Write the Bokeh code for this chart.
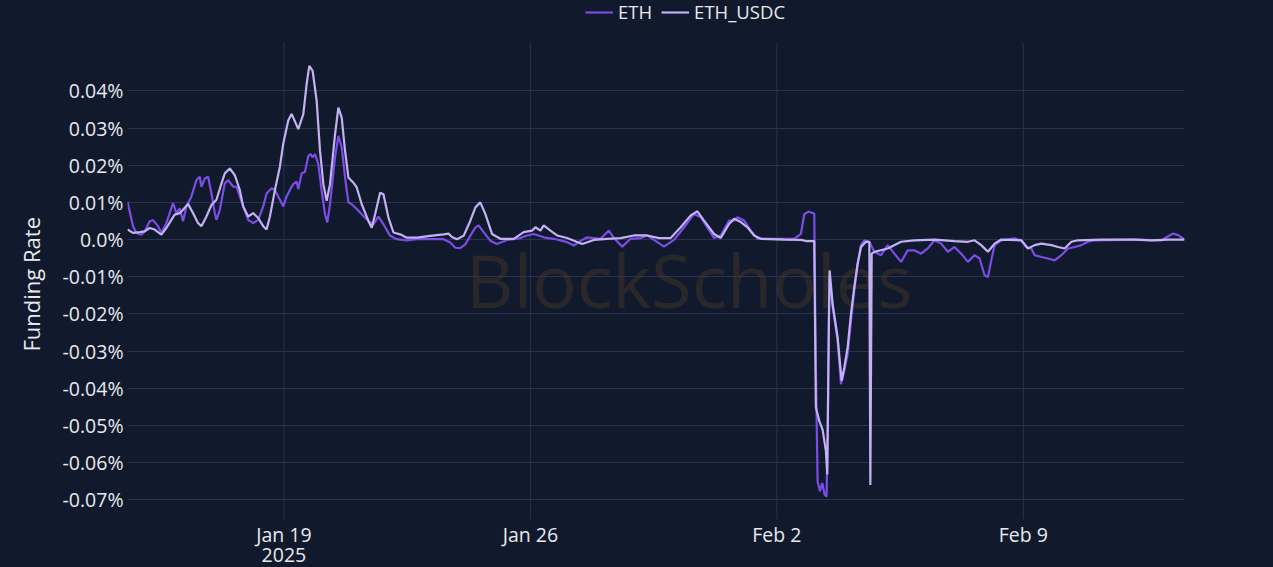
import pandas as pd
from bokeh.plotting import figure
from bokeh.models import (FixedTicker, Legend, LegendItem, Label, ColumnDataSource, Range1d,
                          DatetimeAxis, Title)
from bokeh.embed import file_html
from bokeh.resources import INLINE

# ---------------- data ----------------
# time = days after 2025-01-14 00:00, funding rate in percent (0.01 -> 0.01%)
base_date = "2025-01-14"

eth_days = [0.557, 0.713, 0.807, 0.950, 1.045, 1.187, 1.282, 1.424, 1.519, 1.661,
            1.851, 1.946, 2.041, 2.135, 2.230, 2.373, 2.515, 2.610, 2.657, 2.752,
            2.847, 2.942, 3.037, 3.084, 3.179, 3.321, 3.416, 3.558, 3.653, 3.843,
            3.985, 4.127, 4.270, 4.412, 4.507, 4.649, 4.744, 4.886, 4.981, 5.076,
            5.218, 5.266, 5.361, 5.408, 5.503, 5.598, 5.693, 5.759, 5.816, 5.882,
            5.977, 6.072, 6.167, 6.233, 6.309, 6.452, 6.547, 6.641, 6.736, 6.831,
            6.926, 7.068, 7.210, 7.400, 7.542, 7.685, 7.827, 8.017, 8.206, 8.491,
            8.776, 9.155, 9.535, 9.724, 9.867, 10.009, 10.151, 10.293, 10.436, 10.530,
            10.673, 10.862, 11.052, 11.337, 11.716, 11.906, 12.095, 12.380, 12.665, 13.044,
            13.234, 13.471, 13.613, 13.993, 14.230, 14.372, 14.609, 14.846, 15.131, 15.321,
            15.510, 15.795, 16.080, 16.364, 16.649, 16.838, 17.028, 17.218, 17.407, 17.645,
            17.787, 17.881, 18.071, 18.261, 18.451, 18.735, 19.115, 19.494, 19.684, 19.780,
            19.900, 20.000, 20.063, 20.110, 20.158, 20.225, 20.291, 20.357, 20.414, 20.452,
            20.490, 20.585, 20.727, 20.822, 20.917, 21.012, 21.107, 21.201, 21.296, 21.391,
            21.486, 21.628, 21.771, 21.960, 22.150, 22.340, 22.530, 22.719, 22.909, 23.099,
            23.288, 23.478, 23.668, 23.858, 24.047, 24.237, 24.427, 24.617, 24.759, 24.901,
            24.996, 25.091, 25.186, 25.375, 25.755, 25.944, 26.087, 26.229, 26.324, 26.514,
            26.703, 26.893, 27.083, 27.272, 27.462, 27.652, 27.842, 28.031, 29.170, 29.930,
            30.118, 30.260, 30.403, 30.580]
eth_rate = [0.0102, 0.0036, 0.0018, 0.0013, 0.0022, 0.0049, 0.0052, 0.0036, 0.0018, 0.0044,
            0.0098, 0.0071, 0.0084, 0.0049, 0.0089, 0.0116, 0.0160, 0.0169, 0.0142, 0.0164,
            0.0169, 0.0124, 0.0071, 0.0053, 0.0080, 0.0151, 0.0160, 0.0142, 0.0142, 0.0089,
            0.0053, 0.0044, 0.0053, 0.0089, 0.0124, 0.0138, 0.0133, 0.0107, 0.0089, 0.0116,
            0.0142, 0.0149, 0.0156, 0.0135, 0.0178, 0.0182, 0.0225, 0.0230, 0.0221, 0.0230,
            0.0203, 0.0131, 0.0068, 0.0046, 0.0095, 0.0221, 0.0279, 0.0248, 0.0167, 0.0100,
            0.0095, 0.0082, 0.0068, 0.0050, 0.0041, 0.0062, 0.0041, 0.0010, 0.0001, -0.0002,
            0.0001, 0.0001, 0.0001, -0.0008, -0.0022, -0.0023, -0.0013, 0.0010, 0.0032, 0.0038,
            0.0020, -0.0003, -0.0012, -0.0001, 0.0004, 0.0011, 0.0015, 0.0006, 0.0002, -0.0007,
            -0.0016, -0.0001, 0.0006, 0.0002, 0.0024, 0.0004, -0.0019, 0.0002, 0.0004, 0.0011,
            -0.0001, -0.0019, -0.0001, 0.0033, 0.0069, 0.0060, 0.0033, 0.0004, 0.0011, 0.0051,
            0.0051, 0.0060, 0.0051, 0.0024, 0.0002, 0.0002, 0.0002, 0.0002, 0.0015, 0.0068,
            0.0075, 0.0072, 0.0070, -0.0344, -0.0650, -0.0677, -0.0655, -0.0686, -0.0691, -0.0470,
            -0.0101, -0.0182, -0.0272, -0.0389, -0.0353, -0.0308, -0.0218, -0.0137, -0.0065, -0.0015,
            -0.0002, -0.0006, -0.0033, -0.0042, -0.0015, -0.0038, -0.0060, -0.0029, -0.0029, -0.0038,
            -0.0024, -0.0002, -0.0011, -0.0033, -0.0020, -0.0038, -0.0060, -0.0042, -0.0051, -0.0096,
            -0.0101, -0.0056, -0.0015, -0.0002, 0.0003, -0.0002, -0.0020, -0.0024, -0.0042, -0.0047,
            -0.0051, -0.0056, -0.0042, -0.0024, -0.0020, -0.0015, -0.0006, -0.0002, 0.0000, -0.0002,
            0.0009, 0.0016, 0.0012, 0.0000]

usdc_days = [0.557, 0.713, 0.902, 1.045, 1.187, 1.329, 1.519, 1.661, 1.803, 1.898,
             2.041, 2.135, 2.278, 2.420, 2.562, 2.657, 2.799, 2.942, 3.084, 3.226,
             3.321, 3.463, 3.606, 3.748, 3.843, 3.985, 4.127, 4.270, 4.412, 4.507,
             4.602, 4.744, 4.886, 4.981, 5.123, 5.218, 5.266, 5.408, 5.550, 5.645,
             5.721, 5.816, 5.930, 6.025, 6.120, 6.214, 6.309, 6.452, 6.547, 6.641,
             6.736, 6.831, 6.973, 7.068, 7.210, 7.400, 7.495, 7.590, 7.732, 7.827,
             7.969, 8.112, 8.301, 8.491, 8.776, 9.155, 9.535, 9.677, 9.772, 9.914,
             10.104, 10.293, 10.436, 10.578, 10.720, 10.910, 11.147, 11.526, 11.811, 12.048,
             12.143, 12.285, 12.380, 12.570, 12.759, 13.044, 13.471, 13.803, 14.182, 14.562,
             14.941, 15.321, 15.653, 15.985, 16.269, 16.554, 16.744, 16.933, 17.218, 17.407,
             17.645, 17.787, 17.977, 18.166, 18.356, 18.546, 19.210, 19.684, 19.826, 20.063,
             20.110, 20.206, 20.300, 20.395, 20.433, 20.471, 20.500, 20.585, 20.727, 20.841,
             20.917, 21.012, 21.107, 21.201, 21.296, 21.391, 21.533, 21.628, 21.657, 21.695,
             21.771, 22.150, 22.530, 22.909, 23.478, 24.047, 24.427, 24.617, 24.806, 24.996,
             25.186, 25.375, 25.944, 26.134, 26.324, 26.514, 26.798, 26.988, 27.177, 27.367,
             27.557, 28.221, 29.170, 29.645, 30.118, 30.580]
usdc_rate = [0.0027, 0.0018, 0.0020, 0.0022, 0.0031, 0.0027, 0.0013, 0.0031, 0.0053, 0.0067,
             0.0071, 0.0080, 0.0096, 0.0071, 0.0044, 0.0036, 0.0062, 0.0093, 0.0107, 0.0151,
             0.0178, 0.0191, 0.0173, 0.0133, 0.0089, 0.0062, 0.0071, 0.0058, 0.0036, 0.0027,
             0.0062, 0.0133, 0.0196, 0.0258, 0.0320, 0.0338, 0.0328, 0.0297, 0.0337, 0.0418,
             0.0467, 0.0454, 0.0373, 0.0239, 0.0149, 0.0104, 0.0149, 0.0283, 0.0355, 0.0328,
             0.0239, 0.0167, 0.0153, 0.0140, 0.0095, 0.0050, 0.0032, 0.0068, 0.0126, 0.0122,
             0.0059, 0.0019, 0.0014, 0.0005, 0.0005, 0.0010, 0.0014, 0.0016, 0.0007, 0.0001,
             0.0010, 0.0050, 0.0086, 0.0100, 0.0069, 0.0015, 0.0002, 0.0002, 0.0020, 0.0024,
             0.0033, 0.0024, 0.0038, 0.0024, 0.0011, 0.0004, -0.0012, -0.0001, 0.0002, 0.0004,
             0.0011, 0.0011, 0.0004, 0.0004, 0.0033, 0.0065, 0.0076, 0.0051, 0.0015, 0.0004,
             0.0042, 0.0056, 0.0047, 0.0033, 0.0011, 0.0002, 0.0000, -0.0001, -0.0004, -0.0004,
             -0.0452, -0.0488, -0.0511, -0.0569, -0.0632, -0.0290, -0.0083, -0.0173, -0.0263, -0.0380,
             -0.0344, -0.0290, -0.0200, -0.0128, -0.0065, -0.0020, -0.0006, -0.0006, -0.0660, -0.0038,
             -0.0033, -0.0024, -0.0006, -0.0002, 0.0000, -0.0004, -0.0006, -0.0002, -0.0015, -0.0033,
             -0.0011, 0.0000, -0.0002, -0.0024, -0.0015, -0.0011, -0.0015, -0.0020, -0.0024, -0.0006,
             -0.0002, 0.0000, 0.0000, -0.0002, 0.0000, 0.0000]

series_names = ["ETH", "ETH_USDC"]
series_colors = ["#7b4ce6", "#c4b1f2"]

x_tick_dates = ["2025-01-19", "2025-01-26", "2025-02-02", "2025-02-09"]
x_tick_labels = ["Jan 19", "Jan 26", "Feb 2", "Feb 9"]
x_year_label = "2025"
y_ticks = [0.04, 0.03, 0.02, 0.01, 0.0, -0.01, -0.02, -0.03, -0.04, -0.05, -0.06, -0.07]
y_tick_labels = ["0.04%", "0.03%", "0.02%", "0.01%", "0.0%", "-0.01%", "-0.02%",
                 "-0.03%", "-0.04%", "-0.05%", "-0.06%", "-0.07%"]
y_axis_title = "Funding Rate"
watermark = "BlockScholes"

# ---------------- build ----------------
def to_ms(days):
    t0 = pd.Timestamp(base_date)
    return [(t0 + pd.Timedelta(days=d)).value / 1e6 for d in days]

eth_t = to_ms(eth_days)
usdc_t = to_ms(usdc_days)

BG = "#111a2d"
GRID = "#28334f"
TXT = "#e8e8ee"
FONT = "Open Sans"
TICK_FS = "19.5px"

W, H = 1273, 567
B_LEFT, B_RIGHT, B_BOTTOM = 127, 89, 48
PLOT_TOP = 42                      # top of the plotting area (legend lives above it)
Y_MIN, Y_MAX = -0.0753, 0.0530     # value range of the plotting area
FRAME_H = H - B_BOTTOM             # frame reaches the top edge so the legend is not clipped
px_per_unit = (FRAME_H - PLOT_TOP) / (Y_MAX - Y_MIN)
Y_TOP = Y_MAX + PLOT_TOP / px_per_unit

x0, x1 = min(eth_t[0], usdc_t[0]), max(eth_t[-1], usdc_t[-1])
p = figure(width=W, height=H, x_axis_type="datetime",
           x_range=Range1d(x0, x1), y_range=Range1d(Y_MIN, Y_TOP),
           output_backend="svg", toolbar_location=None,
           background_fill_color=BG, border_fill_color=BG,
           min_border_left=B_LEFT, min_border_right=B_RIGHT,
           min_border_top=0, min_border_bottom=B_BOTTOM,
           styles={"background-color": BG})
p.outline_line_color = None

# watermark behind data
p.add_layout(Label(x=to_ms([16.51])[0], y=-0.0108, text=watermark,
                   text_align="center", text_baseline="middle",
                   text_font=FONT, text_font_size="74px",
                   text_color="#4a3828", text_alpha=0.45, level="underlay"))

xt = to_ms([(pd.Timestamp(d) - pd.Timestamp(base_date)).days for d in x_tick_dates])

# vertical grid lines, limited to the plotting area
p.segment(x0=xt, y0=[Y_MIN] * len(xt), x1=xt, y1=[Y_MAX] * len(xt),
          line_color=GRID, line_width=1)

src_eth = ColumnDataSource(dict(t=eth_t, r=eth_rate))
src_usdc = ColumnDataSource(dict(t=usdc_t, r=usdc_rate))
r1 = p.line("t", "r", source=src_eth, line_color=series_colors[0], line_width=2.2)
r2 = p.line("t", "r", source=src_usdc, line_color=series_colors[1], line_width=2.2)

# axes
p.xaxis.ticker = FixedTicker(ticks=xt)
p.xaxis.major_label_overrides = {k: v for k, v in zip(xt, x_tick_labels)}
p.yaxis.ticker = FixedTicker(ticks=y_ticks)
p.yaxis.major_label_overrides = {k: v for k, v in zip(y_ticks, y_tick_labels)}

# second line under the first date tick: the year
year_axis = DatetimeAxis(ticker=FixedTicker(ticks=[xt[0]]),
                         major_label_overrides={xt[0]: x_year_label})
p.add_layout(year_axis, "below")

for ax in (p.xaxis[0], year_axis, p.yaxis[0]):
    ax.axis_line_color = None
    ax.major_tick_line_color = None
    ax.minor_tick_line_color = None
    ax.major_tick_in = 0
    ax.major_tick_out = 0
    ax.minor_tick_in = 0
    ax.minor_tick_out = 0
    ax.major_label_text_color = TXT
    ax.major_label_text_font = FONT
    ax.major_label_text_font_size = TICK_FS
p.xaxis[0].major_label_standoff = 1
year_axis.major_label_standoff = -3
p.yaxis.major_label_standoff = 4

# y-axis title, centred on the plotting area (not on the taller frame)
title_len_px = 140
p.add_layout(Title(text=y_axis_title, align="left",
                   offset=int((FRAME_H - PLOT_TOP) / 2 - title_len_px / 2),
                   text_font=FONT, text_font_size="22px", text_font_style="normal",
                   text_color=TXT, standoff=27), "left")

p.xgrid.visible = False
p.ygrid.ticker = p.yaxis[0].ticker
p.ygrid.grid_line_color = GRID
p.ygrid.grid_line_width = 1

legend = Legend(items=[LegendItem(label=series_names[0], renderers=[r1]),
                       LegendItem(label=series_names[1], renderers=[r2])],
                orientation="horizontal", location=(458, FRAME_H - 24),
                label_text_color=TXT, label_text_font=FONT, label_text_font_size="18.5px",
                glyph_width=28, glyph_height=20, label_standoff=5, spacing=9,
                padding=0, margin=0, background_fill_alpha=0, border_line_alpha=0)
p.add_layout(legend)

open("out.html", "w").write(file_html(p, INLINE))
